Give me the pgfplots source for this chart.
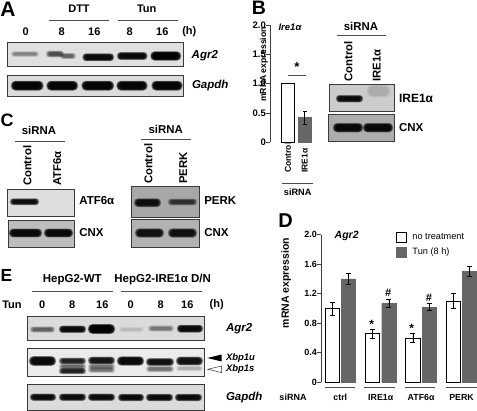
\documentclass[border=0pt]{standalone}
\usepackage{pgfplots}
\pgfplotsset{compat=1.18}
\usepackage{fontspec}
\setmainfont{Liberation Sans}
\newcommand{\fs}[1]{\fontsize{#1}{#1}\selectfont}
\definecolor{bargrey}{HTML}{666666}
\definecolor{framec}{HTML}{3A3A3A}
% band: x1,x2,cy,h,darkness (0-1)
\newcommand{\band}[5]{%
  \pgfmathsetmacro{\layera}{1-(1-#5)^(1/8)}%
  \foreach \k in {0,...,7}{%
    \pgfmathsetmacro{\dd}{3.2*(1-\k/7)}%
    \pgfmathsetmacro{\rc}{0.45*(#4+1.2*\dd)}%
    \fill[black,fill opacity=\layera,rounded corners=\rc pt]
      ({#1-\dd+1},{#3-#4/2-0.6*\dd}) rectangle ({#2+\dd-1},{#3+#4/2+0.6*\dd});
  }}
\newcommand{\panel}[5]{\draw[draw=framec,line width=0.9pt,fill=#5] (#1,#2) rectangle (#3,#4);}
\newcommand{\hl}[3]{\draw[line width=0.7pt,black!70] (#1,#3) -- (#2,#3);}
\begin{document}
\begin{tikzpicture}
\useasboundingbox (0,0) rectangle (477pt,411pt);
\begin{scope}[shift={(0,411pt)},x=1pt,y=-1pt,every node/.style={inner sep=0pt,outer sep=0pt}]
%%% A
\node[font=\bfseries\fs{21}] at (8,9) {A};
\node[font=\bfseries\fs{11}] at (79,9) {DTT};
\node[font=\bfseries\fs{11}] at (146.7,9) {Tun};
\hl{49.3}{109}{20}\hl{118.3}{177.7}{20}
\foreach \x/\t in {25.7/0,61.7/8,94.3/16,129.7/8,162.3/16,189.3/(h)}
  \node[font=\bfseries\fs{11}] at (\x,31.7) {\t};
\panel{7.3}{42.3}{183.7}{66}{black!12}
\band{13}{37}{54}{2}{0.4}
\band{48}{62}{54}{3}{0.65}
\band{62}{74}{56}{2.5}{0.55}
\band{84.5}{112}{57.3}{4}{0.95}
\band{119}{145.5}{56}{4}{0.95}
\band{152.5}{179}{56}{5.5}{0.98}
\node[font=\bfseries\itshape\fs{11.5},anchor=west] at (191.7,56) {Agr2};
\panel{7.3}{75}{183.7}{96.7}{black!14}
\foreach \a/\b in {13/41.5,48.5/76,83.5/112,118.5/145.5,153.5/180.5}{\band{\a}{\b}{85.7}{6}{0.97}}
\node[font=\bfseries\itshape\fs{11.5},anchor=west] at (192,86) {Gapdh};
%%% B
\node[font=\bfseries\fs{19.5}] at (259,8) {B};
\node[font=\bfseries\itshape\fs{9.5}] at (290,27) {Ire1α};
\node[font=\bfseries\fs{13}] at (297,67.5) {*};
\hl{287.7}{305.7}{75}
\hl{281.7}{313}{183}
\node[font=\bfseries\fs{9.2}] at (297.7,192) {siRNA};
\node[font=\bfseries\fs{11.4}] at (361,26.7) {siRNA};
\hl{337.3}{386}{35.7}
\node[font=\bfseries\fs{11.3},rotate=90,anchor=west] at (348.3,81.7) {Control};
\node[font=\bfseries\fs{11.3},rotate=90,anchor=west] at (376.7,81.7) {IRE1α};
\panel{329.3}{84}{394.3}{111.7}{black!20}
\band{368}{389}{91}{9}{0.14}
\band{338}{361}{98.7}{3.5}{0.94}
\node[font=\bfseries\fs{12},anchor=west] at (399,98) {IRE1α};
\panel{328.7}{114.3}{394.3}{141.3}{black!32}
\band{335}{361}{127.7}{5.5}{0.95}
\band{365}{391}{127.7}{5.5}{0.95}
\node[font=\bfseries\fs{11.5},anchor=west] at (399,128) {CNX};
%%% C
\node[font=\bfseries\fs{18}] at (7,120.7) {C};
\node[font=\bfseries\fs{11.4}] at (39,130) {siRNA};
\hl{15}{65}{141}
\node[font=\bfseries\fs{11.3},rotate=90,anchor=west] at (27.3,186) {Control};
\node[font=\bfseries\fs{11.3},rotate=90,anchor=west] at (57.3,186) {ATF6α};
\panel{7.3}{189.3}{74}{216}{black!13}
\band{12}{37}{201.7}{3}{0.93}
\node[font=\bfseries\fs{11.5},anchor=west] at (79.3,200.7) {ATF6α};
\panel{8}{220.5}{74}{247}{black!26}
\band{11}{40}{233}{5}{0.95}
\band{46}{71}{233}{5}{0.95}
\node[font=\bfseries\fs{11.5},anchor=west] at (79.3,233) {CNX};
\node[font=\bfseries\fs{11.4}] at (165.7,129.3) {siRNA};
\hl{140.7}{190.7}{139}
\node[font=\bfseries\fs{11.3},rotate=90,anchor=west] at (148.3,184) {Control};
\node[font=\bfseries\fs{11.3},rotate=90,anchor=west] at (183.3,184) {PERK};
\panel{131.7}{186.7}{199.3}{217.3}{black!34}
\band{136}{159}{202.7}{5}{0.9}
\band{170}{195}{202}{3}{0.72}
\node[font=\bfseries\fs{11.5},anchor=west] at (204.3,200.7) {PERK};
\panel{131.7}{219.3}{199.7}{247}{black!30}
\band{137}{162}{233}{5.5}{0.9}
\band{170}{195}{233}{5.5}{0.9}
\node[font=\bfseries\fs{11.5},anchor=west] at (204.3,233) {CNX};
%%% D labels
\node[font=\bfseries\fs{20}] at (285.7,220.7) {D};
\node[font=\bfseries\itshape\fs{10.5}] at (346.7,235.7) {Agr2};
\hl{324.7}{355.3}{387.3}\hl{364.3}{395.3}{387.3}\hl{404.7}{435.3}{387.3}\hl{446.3}{476.7}{387.3}
\node[font=\bfseries\fs{9}] at (293,397.7) {siRNA};
\node[font=\bfseries\fs{12}] at (371.7,324) {*};
\node[font=\bfseries\fs{11}] at (388.3,292.7) {\#};
\node[font=\bfseries\fs{12}] at (411.7,328) {*};
\node[font=\bfseries\fs{11}] at (429,297.3) {\#};
%%% E
\node[font=\bfseries\fs{17.5}] at (6.5,275.7) {E};
\node[font=\bfseries\fs{11.5}] at (72.3,280) {HepG2-WT};
\node[font=\bfseries\fs{11.5}] at (162.7,280) {HepG2-IRE1α D/N};
\hl{32.3}{112.7}{291}\hl{120.7}{201.7}{291}
\node[font=\bfseries\fs{11}] at (12,304.3) {Tun};
\foreach \x/\t in {42.3/0,72.3/8,102.3/16,130.7/0,160.7/8,187.3/16,216.7/(h)}
  \node[font=\bfseries\fs{11}] at (\x,304.3) {\t};
\panel{27.3}{316.7}{204}{340}{black!14}
\band{32}{53}{329.5}{2.5}{0.55}
\band{61}{84}{329.3}{3.5}{0.95}
\band{90}{113}{329}{6}{0.98}
\band{121}{142}{329.5}{1.5}{0.14}
\band{150}{172}{328.5}{2.5}{0.45}
\band{179}{201}{328.7}{4}{0.95}
\node[font=\bfseries\itshape\fs{11.5},anchor=west] at (226,329) {Agr2};
\panel{27.3}{348.3}{204}{376.7}{black!8}
\band{31}{54}{361}{6}{0.95}
\band{61}{84}{361}{3}{0.85}
\band{61}{84}{366.5}{2}{0.55}
\band{61}{84}{371}{2.5}{0.85}
\band{90}{113}{360.5}{4}{0.9}
\band{90}{113}{366.5}{2}{0.5}
\band{90}{113}{370}{2}{0.5}
\band{119}{142}{361}{5.5}{0.95}
\band{148}{172}{362}{4}{0.92}
\band{148}{172}{369}{2.5}{0.5}
\band{178}{201}{361}{5}{0.92}
\band{178}{201}{368.5}{2}{0.25}
\node[font=\bfseries\itshape\fs{9.5},anchor=west] at (226,358) {Xbp1u};
\node[font=\bfseries\itshape\fs{9.5},anchor=west] at (226,369.3) {Xbp1s};
\fill[black] (207.3,358) -- (221.7,354.5) -- (221.7,361.5) -- cycle;
\draw[black!80,fill=white,line width=0.5pt] (207.8,369.3) -- (221.7,366) -- (221.7,372.6) -- cycle;
\panel{27.3}{384}{204}{410}{black!14}
\foreach \a/\b/\c in {32/54/397.2,61/84/397.2,90/113/397.2,120/142/397.5,148/171/397.5,177/200/397.5}{\band{\a}{\b}{\c}{3.5}{0.94}}
\node[font=\bfseries\itshape\fs{11.5},anchor=west] at (226,397.3) {Gapdh};
\end{scope}
%%% B chart
\begin{axis}[
  at={(270pt,268.7pt)},anchor=south west,scale only axis,
  width=43pt,height=117.3pt,
  xmin=-1.047,xmax=1.482,ymin=0,ymax=2,clip=false,
  axis y line*=left,axis x line*=bottom,
  axis line style={-,black!75,line width=0.7pt},
  x axis line style={draw=none},
  xtick={0,1},xticklabels={Control,IRE1α},
  xtick style={draw=none},
  xticklabel style={yshift=-30pt,rotate=90,anchor=west,font=\bfseries\fs{8.5}},
  ytick={0,0.5,1,1.5,2},yticklabels={0,0.5,1.0,1.5,2.0},
  ytick style={black!75,line width=0.7pt},
  tick align=outside,major tick length=4pt,
  yticklabel style={font=\bfseries\fs{9.5},inner sep=0pt},
  every axis y label/.style={at={(axis description cs:-0.14,0.663)},rotate=90,anchor=center,font=\bfseries\fs{8.7}},
  ylabel={mRNA expression},
]
\addplot[ybar,bar width=13pt,bar shift=0pt,fill=white,draw=black,line width=0.7pt] coordinates {(0,1.0)};
\addplot[ybar,bar width=13pt,bar shift=0pt,fill=bargrey,draw=bargrey,
  error bars/.cd,y dir=both,y explicit,error bar style={black,line width=0.7pt},error mark options={rotate=90,black,mark size=2pt,line width=0.7pt}]
  coordinates {(1,0.42) +- (0,0.11)};
\end{axis}
%%% D chart
\begin{axis}[
  at={(321pt,28.7pt)},anchor=south west,scale only axis,
  width=156pt,height=147.6pt,
  xmin=-0.478,xmax=3.384,ymin=0,ymax=2,clip=false,
  ybar=2pt,bar width=14.3pt,
  axis y line*=left,axis x line*=bottom,
  axis line style={-,black!75,line width=0.7pt},
  x axis line style={draw=none},
  xtick={0,1,2,3},xticklabels={ctrl,IRE1α,ATF6α,PERK},
  xtick style={draw=none},
  xticklabel style={font=\bfseries\fs{8.8},anchor=center,yshift=-11pt},
  ytick={0,0.4,0.8,1.2,1.6,2},yticklabels={0,0.4,0.8,1.2,1.6,2.0},
  ytick style={black!75,line width=0.7pt},
  tick align=outside,major tick length=4pt,
  yticklabel style={font=\bfseries\fs{9},inner sep=0pt},
  every axis y label/.style={at={(axis description cs:-0.224,0.673)},rotate=90,anchor=center,font=\bfseries\fs{10.5}},
  ylabel={mRNA expression},
  legend style={at={(0.478,1.02)},anchor=north west,draw=none,fill=none,font=\fs{9.2},row sep=2.5pt,inner sep=0pt,column sep=4pt},
  legend cell align=left,
  legend image code/.code={\draw[#1,line width=0.7pt] (0pt,-5pt) rectangle (10pt,5pt);},
  error bars/error bar style={black,line width=0.7pt},
  error bars/error mark options={rotate=90,black,mark size=2.5pt,line width=0.7pt},
]
\addplot[fill=white,draw=black,line width=0.8pt,error bars/.cd,y dir=both,y explicit]
  coordinates {(0,1.00) +- (0,0.09) (1,0.66) +- (0,0.06) (2,0.60) +- (0,0.06) (3,1.10) +- (0,0.10)};
\addplot[fill=bargrey,draw=bargrey,error bars/.cd,y dir=both,y explicit]
  coordinates {(0,1.40) +- (0,0.07) (1,1.07) +- (0,0.06) (2,1.02) +- (0,0.05) (3,1.50) +- (0,0.07)};
\legend{no treatment,Tun (8 h)}
\end{axis}
\end{tikzpicture}
\end{document}
